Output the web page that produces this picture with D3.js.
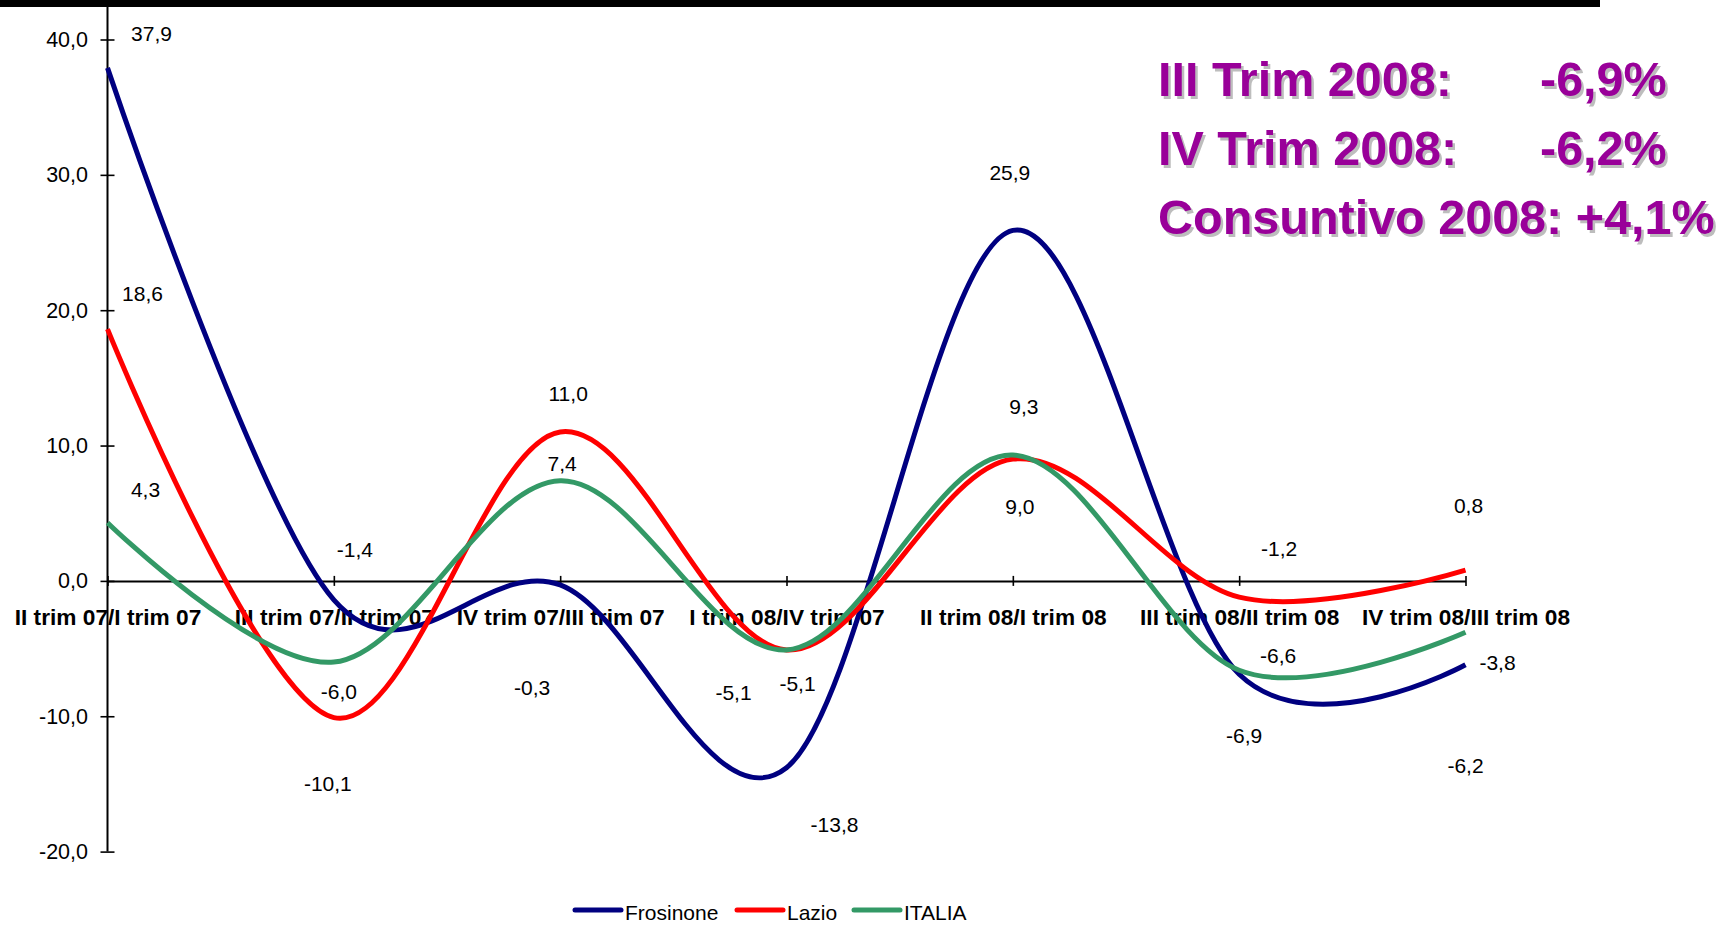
<!DOCTYPE html>
<html>
<head>
<meta charset="utf-8">
<script src="https://cdn.jsdelivr.net/npm/d3@7"></script>
<style>
  html, body { margin: 0; padding: 0; background: #fff; }
  svg { display: block; font-family: "Liberation Sans", Arial, sans-serif; }
</style>
</head>
<body>
<svg id="chart" width="1734" height="926"></svg>
<script>
// Quarterly variation (%), period over previous period
const categories = [
  "II trim 07/I trim 07",
  "III trim 07/II trim 07",
  "IV trim 07/III trim 07",
  "I trim 08/IV trim 07",
  "II trim 08/I trim 08",
  "III trim 08/II trim 08",
  "IV trim 08/III trim 08"
];
const frosinone = [37.9, -1.4, -0.3, -13.8, 25.9, -6.9, -6.2];
const lazio     = [18.6, -10.1, 11.0, -5.1, 9.0, -1.2, 0.8];
const italia    = [4.3, -6.0, 7.4, -5.1, 9.3, -6.6, -3.8];
const seriesNames = ["Frosinone", "Lazio", "ITALIA"];
const yTicks = [-20, -10, 0, 10, 20, 30, 40];

const notesLeft  = ["III Trim 2008:", "IV Trim 2008:", "Consuntivo 2008:"];
const notesRight = ["-6,9%", "-6,2%", "+4,1%"];

// label placement offsets (px) relative to each point, per series
const labelOffsets = [
  [[44, -34], [21, -50], [-28, 103], [48, 57], [-3, -58], [5, 61], [0, 101]],
  [[35, -35], [-6, 66], [8, -38], [-53, 43], [7, 48], [40, -48], [3, -64]],
  [[38, -33], [5, 30], [2, -17], [11, 34], [11, -48], [39, -15], [32, 30]]
];
const colors = ["#000080", "#ff0000", "#339966"];

const svg = d3.select("#chart");
const x = d3.scalePoint().domain(categories).range([107.5, 1465.5]);
const y = d3.scaleLinear().domain([-20, 40]).range([851.6, 39.5]);
const fmt = v => d3.format(".1f")(v).replace(".", ",").replace("−", "-");

// top rule
svg.append("rect").attr("x", 0).attr("y", 0).attr("width", 1600).attr("height", 7).attr("fill", "#000");

// value axis
const yAxis = svg.append("g").attr("transform", `translate(${x(categories[0])},0)`)
  .call(d3.axisLeft(y).tickValues(yTicks).tickSize(7).tickPadding(12.5).tickFormat(fmt));
yAxis.select(".domain").remove();
yAxis.selectAll(".tick line").attr("x1", 7).attr("stroke", "#000").attr("stroke-width", 1.6);
yAxis.selectAll(".tick text").attr("font-size", 21.5).attr("fill", "#000")
  .attr("font-family", "'Liberation Sans', Arial, sans-serif");
svg.append("line").attr("x1", x(categories[0])).attr("x2", x(categories[0]))
  .attr("y1", 0).attr("y2", y(-20)).attr("stroke", "#000").attr("stroke-width", 2);

// category axis at zero
const xAxis = svg.append("g").attr("transform", `translate(0,${y(0)})`)
  .call(d3.axisBottom(x).tickSizeInner(5).tickSizeOuter(0));
xAxis.select(".domain").attr("stroke", "#000").attr("stroke-width", 2);
xAxis.selectAll(".tick line").attr("y1", -5).attr("stroke", "#000").attr("stroke-width", 1.6);
xAxis.selectAll(".tick text").attr("y", 44).attr("dy", 0)
  .attr("font-size", 22.7).attr("font-weight", "bold").attr("fill", "#000")
  .attr("font-family", "'Liberation Sans', Arial, sans-serif");

// smoothed series lines
const line = d3.line()
  .x((d, i) => x(categories[i]))
  .y(d => y(d))
  .curve(d3.curveCardinal.tension(0));
const allSeries = [frosinone, lazio, italia];
allSeries.forEach((vals, s) => {
  svg.append("path").datum(vals)
    .attr("d", line)
    .attr("fill", "none")
    .attr("stroke", colors[s])
    .attr("stroke-width", 5)
    .attr("stroke-linejoin", "round")
    .attr("stroke-linecap", "butt");
});

// value labels
allSeries.forEach((vals, s) => {
  svg.append("g").selectAll("text").data(vals).join("text")
    .attr("x", (d, i) => x(categories[i]) + labelOffsets[s][i][0])
    .attr("y", (d, i) => y(d) + labelOffsets[s][i][1])
    .attr("dy", "0.35em")
    .attr("text-anchor", "middle")
    .attr("font-size", 21)
    .attr("fill", "#000")
    .text(d => fmt(d));
});

// legend
const legendX = [575, 737, 854];
const legend = svg.append("g");
seriesNames.forEach((name, s) => {
  legend.append("line")
    .attr("x1", legendX[s]).attr("x2", legendX[s] + 46)
    .attr("y1", 910).attr("y2", 910)
    .attr("stroke", colors[s]).attr("stroke-width", 5).attr("stroke-linecap", "round");
  legend.append("text")
    .attr("x", legendX[s] + 50).attr("y", 920)
    .attr("font-size", 21).attr("fill", "#000")
    .text(name);
});

// highlighted notes
const notes = svg.append("g").attr("font-size", 48.5).attr("font-weight", "bold");
notesLeft.forEach((t, i) => {
  const by = 96 + i * 69;
  const isLast = i === notesLeft.length - 1;
  const rightX = 1540;
  [["#bdbdbd", 2.5], ["#990099", 0]].forEach(([c, off]) => {
    const txt = notes.append("text").attr("x", 1158 + off).attr("y", by + off).attr("fill", c);
    if (isLast) {
      txt.text(t + " " + notesRight[i]);
    } else {
      txt.text(t);
      notes.append("text").attr("x", rightX + off).attr("y", by + off).attr("fill", c).text(notesRight[i]);
    }
  });
});
</script>
</body>
</html>
